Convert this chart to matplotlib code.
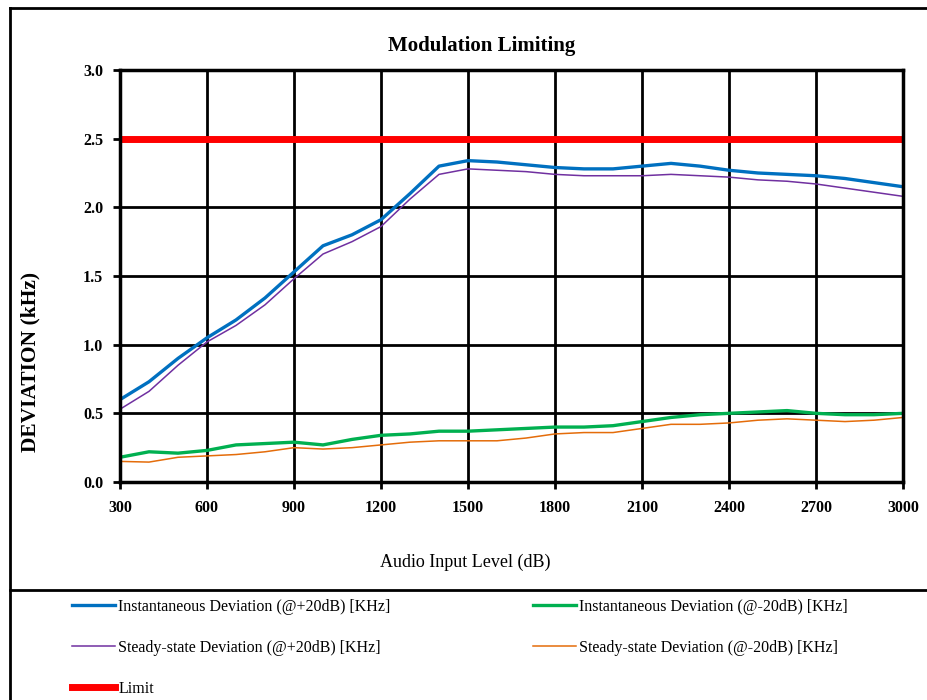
import matplotlib.pyplot as plt
from matplotlib.lines import Line2D

# audio input level (dB)
level = [300, 400, 500, 600, 700, 800, 900, 1000, 1100, 1200, 1300, 1400, 1500, 1600,
         1700, 1800, 1900, 2000, 2100, 2200, 2300, 2400, 2500, 2600, 2700, 2800, 2900, 3000]

inst_pos = [0.60, 0.73, 0.90, 1.05, 1.18, 1.34, 1.53, 1.72, 1.80, 1.91, 2.10, 2.30, 2.34, 2.33,
            2.31, 2.29, 2.28, 2.28, 2.30, 2.32, 2.30, 2.27, 2.25, 2.24, 2.23, 2.21, 2.18, 2.15]
steady_pos = [0.53, 0.66, 0.85, 1.02, 1.14, 1.29, 1.48, 1.66, 1.75, 1.86, 2.06, 2.24, 2.28, 2.27,
              2.26, 2.24, 2.23, 2.23, 2.23, 2.24, 2.23, 2.22, 2.20, 2.19, 2.17, 2.14, 2.11, 2.08]
inst_neg = [0.18, 0.22, 0.21, 0.23, 0.27, 0.28, 0.29, 0.27, 0.31, 0.34, 0.35, 0.37, 0.37, 0.38,
            0.39, 0.40, 0.40, 0.41, 0.44, 0.47, 0.49, 0.50, 0.51, 0.52, 0.50, 0.49, 0.49, 0.50]
steady_neg = [0.15, 0.145, 0.18, 0.19, 0.20, 0.22, 0.25, 0.24, 0.25, 0.27, 0.29, 0.30, 0.30, 0.30,
              0.32, 0.35, 0.36, 0.36, 0.39, 0.42, 0.42, 0.43, 0.45, 0.46, 0.45, 0.44, 0.45, 0.47]
limit = [2.5] * len(level)

xticks = [300, 600, 900, 1200, 1500, 1800, 2100, 2400, 2700, 3000]
yticks = [0.0, 0.5, 1.0, 1.5, 2.0, 2.5, 3.0]

plt.rcParams['font.family'] = ['Liberation Serif', 'DejaVu Serif']

fig = plt.figure(figsize=(9.28, 7), dpi=100)
ax = fig.add_axes([120/928, 1-482/700, 783/928, 412/700])

l_blue, = ax.plot(level, inst_pos, color='#0070C0', lw=2.4,
                  label='Instantaneous Deviation (@+20dB) [KHz]')
l_purple, = ax.plot(level, steady_pos, color='#7030A0', lw=1.1,
                    label='Steady-state Deviation (@+20dB) [KHz]')
l_green, = ax.plot(level, inst_neg, color='#00B050', lw=2.4,
                   label='Instantaneous Deviation (@-20dB) [KHz]')
l_orange, = ax.plot(level, steady_neg, color='#E46C0A', lw=1.1,
                    label='Steady-state Deviation (@-20dB) [KHz]')
l_red, = ax.plot(level, limit, color='#FF0000', lw=5, label='Limit')

ax.set_xlim(300, 3000)
ax.set_ylim(0, 3.0)
ax.set_xticks(xticks)
ax.set_yticks(yticks)
ax.set_yticklabels([f'{v:.1f}' for v in yticks])
ax.grid(True, color='black', lw=2)
ax.set_axisbelow(True)
for s in ax.spines.values():
    s.set_linewidth(2.5)
ax.tick_params(length=5, width=2, labelsize=11.5)
ax.tick_params(axis='x', pad=8)
ax.tick_params(axis='y', pad=7)
for t in ax.get_xticklabels() + ax.get_yticklabels():
    t.set_fontweight('bold')

fig.text(482/928, 1-46/700, 'Modulation Limiting', ha='center', va='center',
         fontsize=15, fontweight='bold')
fig.text(30/928, 1-362/700, 'DEVIATION (kHz)', ha='center', va='center',
         rotation=90, fontsize=15.5, fontweight='bold')
fig.text(465/928, 1-562/700, 'Audio Input Level (dB)', ha='center', va='center',
         fontsize=13)

# outer frame and legend separator
fig.add_artist(Line2D([10/928, 10/928], [0, 1-8/700], color='black', lw=2))
fig.add_artist(Line2D([10/928, 1], [1-8/700, 1-8/700], color='black', lw=2))
fig.add_artist(Line2D([10/928, 1], [1-590/700, 1-590/700], color='black', lw=2))

leg_kw = dict(loc='upper left', frameon=False, fontsize=11.5, borderpad=0,
              handlelength=2.7, handletextpad=0.2, labelspacing=1.55, borderaxespad=0)
fig.legend(handles=[l_blue, l_purple, l_red], bbox_to_anchor=(72/928, 1-599/700), **leg_kw)
fig.legend(handles=[l_green, l_orange], bbox_to_anchor=(533/928, 1-599/700), **leg_kw)

fig.savefig('out.png', dpi=100)
